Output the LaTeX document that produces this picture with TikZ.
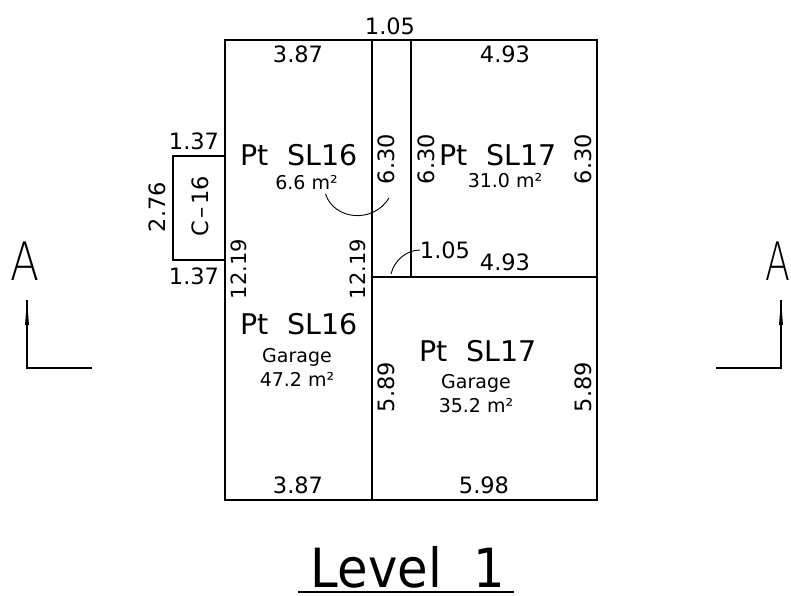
\documentclass[tikz,border=0pt]{standalone}
\usepackage{fontspec}
\setmainfont{DejaVu Sans}
\newfontfamily\thinfont{DejaVu Sans ExtraLight}
\usetikzlibrary{arrows}
\tikzset{
	wall/.style={line width=1.7pt, black},
	dim/.style={font=\fontsize{22.5}{22.5}\selectfont, inner sep=0pt},
	longdim/.style={font=\fontsize{21}{21}\selectfont, inner sep=0pt},
	unit/.style={font=\fontsize{28.5}{28.5}\selectfont, inner sep=0pt},
	area/.style={font=\fontsize{19}{24}\selectfont, inner sep=0pt, align=center},
	mark letter/.style={font=\fontsize{53}{53}\thinfont, inner sep=0pt, xscale=0.8},
}
\begin{document}
\begin{tikzpicture}[x=1pt, y=-1pt]
	\useasboundingbox (0,0) rectangle (791,595);
	% corners
	\coordinate (TL) at (225,40);
	\coordinate (TM) at (372,40);
	\coordinate (TN) at (411,40);
	\coordinate (TR) at (597,40);
	\coordinate (BL) at (225,500);
	\coordinate (BM) at (372,500);
	\coordinate (BR) at (597,500);
	\coordinate (ML) at (372,277);
	\coordinate (MN) at (411,277);
	\coordinate (MR) at (597,277);
	\coordinate (CA) at (225,156);
	\coordinate (CB) at (173,156);
	\coordinate (CC) at (173,260);
	\coordinate (CD) at (225,260);

	\draw[wall] (TL) -- (TR) -- (BR) -- (BL) -- cycle;
	\draw[wall] (TM) -- (BM);
	\draw[wall] (TN) -- (MN);
	\draw[wall] (ML) -- (MR);
	\draw[wall] (CA) -- (CB) -- (CC) -- (CD);

	% leaders
	\coordinate (LA) at (325.5,194);
	\coordinate (LB) at (389,198);
	\coordinate (LC) at (391,274);
	\coordinate (LD) at (420,250);
	\draw[line width=0.9pt] (LA) .. controls (334,220) and (373,224) .. (LB);
	\draw[line width=0.9pt] (LC) .. controls (394,261) and (406,250) .. (LD);

	% dimensions
	\node[dim] (d105t) at (390,26) {1.05};
	\node[dim] (d387t) at (298,54) {3.87};
	\node[dim] (d493t) at (505,54) {4.93};
	\node[dim] (d137t) at (194,141) {1.37};
	\node[dim] (d137b) at (194,276) {1.37};
	\node[dim, rotate=90] (d276) at (157,207) {2.76};
	\node[longdim, rotate=90] (d1219l) at (239,269) {12.19};
	\node[longdim, rotate=90] (d1219r) at (358,269) {12.19};
	\node[dim, rotate=90] (d630a) at (386,159) {6.30};
	\node[dim, rotate=90] (d630b) at (426,159) {6.30};
	\node[dim, rotate=90] (d630c) at (583,159) {6.30};
	\node[dim] (d105m) at (445,250) {1.05};
	\node[dim] (d493m) at (505,262) {4.93};
	\node[dim, rotate=90] (d589l) at (386,387) {5.89};
	\node[dim, rotate=90] (d589r) at (583,387) {5.89};
	\node[dim] (d387b) at (298,485) {3.87};
	\node[dim] (d598b) at (484,485) {5.98};
	\node[dim, rotate=90] (c16) at (200,206) {C\kern2.5pt--\kern2.5pt16};

	% units
	\node[unit] (sl16a) at (299,155) {Pt\ \ SL16};
	\node[area] (ar66) at (306.5,183) {6.6 m²};
	\node[unit] (sl17a) at (498,155) {Pt\ \ SL17};
	\node[area] (ar310) at (505,181) {31.0 m²};
	\node[unit] (sl16b) at (299,324) {Pt\ \ SL16};
	\node[area] (ar472) at (297,367) {Garage\\47.2 m²};
	\node[unit] (sl17b) at (478,351) {Pt\ \ SL17};
	\node[area] (ar352) at (476,394) {Garage\\35.2 m²};

	% section marks
	\node[mark letter] (Al) at (25.5,261) {A};
	\node[mark letter, xscale=0.86] (Ar) at (777.5,261) {A};
	\coordinate (Sla) at (27,300);
	\coordinate (Slb) at (27,368);
	\coordinate (Slc) at (92,368);
	\coordinate (Sra) at (781,300);
	\coordinate (Srb) at (781,368);
	\coordinate (Src) at (716,368);
	\draw[line width=1.2pt] (Slc) -- (Slb) -- (Sla);
	\draw[line width=1.2pt] (Src) -- (Srb) -- (Sra);
	\fill (Sla) -- (29,325) -- (25,325) -- cycle;
	\fill (Sra) -- (783,325) -- (779,325) -- cycle;

	% title
	\node[inner sep=0pt, font=\fontsize{54}{54}\selectfont, xscale=0.92] (title) at (408,567) {Level\ \ 1};
	\coordinate (Ua) at (298,592);
	\coordinate (Ub) at (514,592);
	\draw[line width=2pt] (Ua) -- (Ub);
\end{tikzpicture}
\end{document}
